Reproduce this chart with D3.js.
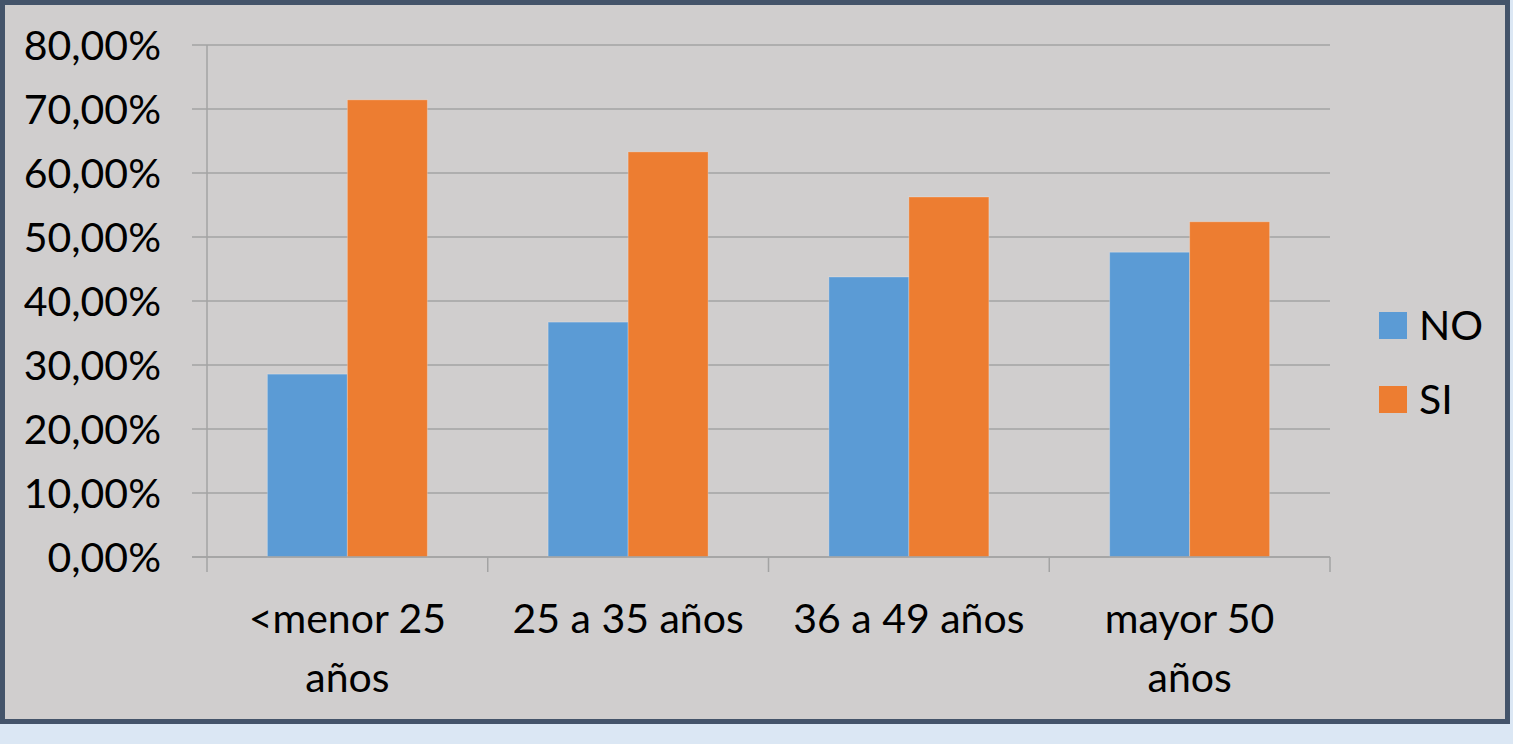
<!DOCTYPE html>
<html>
<head>
<meta charset="utf-8">
<script src="https://cdn.jsdelivr.net/npm/d3@7"></script>
<style>
  html, body { margin: 0; padding: 0; background: #dbe7f4; }
  svg { display: block; }
  text { font-family: Lato, "Open Sans", sans-serif; fill: #000; }
</style>
</head>
<body>
<svg id="chart" width="1513" height="744"></svg>
<script>
// data
const categories = [['<menor 25', 'años'], ['25 a 35 años'], ['36 a 49 años'], ['mayor 50', 'años']];
const seriesNames = ['NO', 'SI'];
const noValues = [28.57, 36.7, 43.75, 47.62];
const siValues = [71.43, 63.3, 56.25, 52.38];
const yTicks = [0, 10, 20, 30, 40, 50, 60, 70, 80];
const colors = ['#5b9bd5', '#ed7d31'];

let svg = d3.select('#chart');

// outer frame
svg.append('rect')
  .attr('x', 0).attr('y', 0).attr('width', 1513).attr('height', 744)
  .attr('fill', '#dbe7f4');
svg.append('rect')
  .attr('x', 2.5).attr('y', 2.5).attr('width', 1505).attr('height', 719)
  .attr('fill', '#d0cece')
  .attr('stroke', '#44546a')
  .attr('stroke-width', 5);

let plotLeft = 207, plotRight = 1330, plotTop = 45, plotBottom = 557;

let x = d3.scaleBand()
  .domain(d3.range(categories.length))
  .range([plotLeft, plotRight])
  .paddingInner(0)
  .paddingOuter(0);

let x1 = d3.scaleBand()
  .domain(seriesNames)
  .range([0, x.bandwidth()])
  .paddingInner(0)
  .paddingOuter(0.755);

let y = d3.scaleLinear()
  .domain([0, 80])
  .range([plotBottom, plotTop]);

// gridlines
svg.append('g')
  .selectAll('line')
  .data(yTicks)
  .enter().append('line')
  .attr('x1', plotLeft - 15)
  .attr('x2', plotRight)
  .attr('y1', d => y(d))
  .attr('y2', d => y(d))
  .attr('stroke', '#a3a3a3')
  .attr('stroke-width', 1.5);

// y axis line
svg.append('line')
  .attr('x1', plotLeft).attr('x2', plotLeft)
  .attr('y1', plotTop).attr('y2', plotBottom)
  .attr('stroke', '#a3a3a3')
  .attr('stroke-width', 1.5);

// y labels
svg.append('g')
  .selectAll('text')
  .data(yTicks)
  .enter().append('text')
  .attr('x', 161)
  .attr('y', d => y(d))
  .attr('dy', '0.36em')
  .attr('text-anchor', 'end')
  .style('font-size', '41px')
  .text(d => d3.format('.2f')(d).replace('.', ',') + '%');

// bars
let table = categories.map((c, i) => ({ i: i, NO: noValues[i], SI: siValues[i] }));
let groups = svg.append('g')
  .selectAll('g')
  .data(table)
  .enter().append('g')
  .attr('transform', d => 'translate(' + x(d.i) + ',0)');

groups.selectAll('rect')
  .data(d => seriesNames.map(k => ({ key: k, value: d[k] })))
  .enter().append('rect')
  .attr('x', d => x1(d.key))
  .attr('width', x1.bandwidth())
  .attr('y', d => y(d.value))
  .attr('height', d => plotBottom - y(d.value))
  .attr('fill', (d, i) => colors[i])
  .attr('stroke', 'rgba(255,255,255,0.25)')
  .attr('stroke-width', 1);

// x axis line and ticks
svg.append('line')
  .attr('x1', plotLeft - 15).attr('x2', plotRight)
  .attr('y1', plotBottom).attr('y2', plotBottom)
  .attr('stroke', '#a3a3a3')
  .attr('stroke-width', 1.5);

svg.append('g')
  .selectAll('line')
  .data(d3.range(categories.length + 1))
  .enter().append('line')
  .attr('x1', d => plotLeft + d * x.bandwidth())
  .attr('x2', d => plotLeft + d * x.bandwidth())
  .attr('y1', plotBottom)
  .attr('y2', plotBottom + 15)
  .attr('stroke', '#a3a3a3')
  .attr('stroke-width', 1.5);

// category labels
let catLabel = svg.append('g')
  .selectAll('text')
  .data(categories)
  .enter().append('text')
  .attr('text-anchor', 'middle')
  .style('font-size', '41px')
  .attr('transform', (d, i) => 'translate(' + (x(i) + x.bandwidth() / 2) + ',633)');

catLabel.selectAll('tspan')
  .data(d => d)
  .enter().append('tspan')
  .attr('x', 0)
  .attr('y', (d, i) => i * 59)
  .text(d => d);

// legend
let legend = svg.append('g')
  .selectAll('g')
  .data(seriesNames)
  .enter().append('g')
  .attr('transform', (d, i) => 'translate(1379,' + (312 + i * 74) + ')');

legend.append('rect')
  .attr('width', 28)
  .attr('height', 27)
  .attr('fill', (d, i) => colors[i]);

legend.append('text')
  .attr('x', 40)
  .attr('y', 28)
  .style('font-size', '41px')
  .text(d => d);
</script>
</body>
</html>
